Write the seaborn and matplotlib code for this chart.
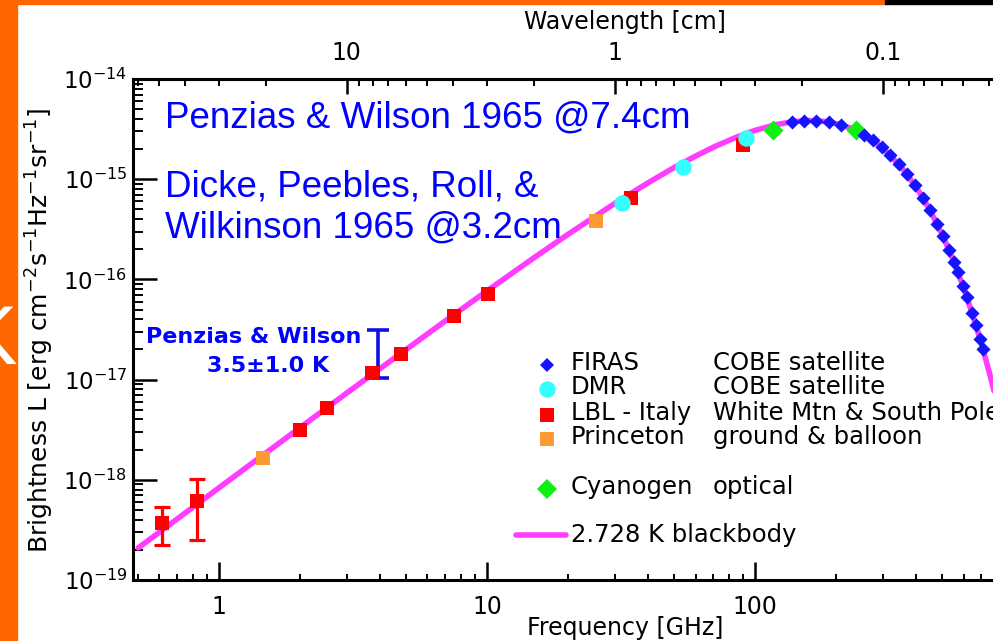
import numpy as np
import matplotlib
matplotlib.use("Agg")
import matplotlib.pyplot as plt
import seaborn as sns
from matplotlib.ticker import LogLocator, FuncFormatter, NullFormatter
from matplotlib.lines import Line2D
from matplotlib.patches import Rectangle

# ---------------- data ----------------
# 2.728 K blackbody curve: frequency [GHz], brightness [erg cm^-2 s^-1 Hz^-1 sr^-1]
bb_freq = [0.5, 0.7, 1, 1.5, 2, 3, 5, 7, 10, 15, 20, 30, 40, 50, 60, 70, 85, 100,
           120, 140, 160, 180, 200, 225, 250, 275, 300, 350, 400, 450, 500, 550,
           600, 650, 700, 750, 800, 850, 900, 950, 1000]
bb_L = [2.09e-19, 4.08e-19, 8.31e-19, 1.86e-18, 3.29e-18, 7.35e-18, 2.00e-17,
        3.86e-17, 7.67e-17, 1.65e-16, 2.80e-16, 5.73e-16, 9.24e-16, 1.31e-15,
        1.70e-15, 2.09e-15, 2.62e-15, 3.07e-15, 3.51e-15, 3.77e-15, 3.85e-15,
        3.78e-15, 3.60e-15, 3.27e-15, 2.87e-15, 2.45e-15, 2.04e-15, 1.34e-15,
        8.31e-16, 4.90e-16, 2.79e-16, 1.54e-16, 8.30e-17, 4.37e-17, 2.27e-17,
        1.16e-17, 5.84e-18, 2.90e-18, 1.43e-18, 6.98e-19, 3.38e-19]

# FIRAS (COBE satellite)
firas_freq = [137.4, 152.3, 168.9, 188.9, 209.4, 255.0, 275.6, 297.8, 319.0, 344.5,
              369.1, 395.4, 423.6, 449.8, 477.7, 502.9, 529.6, 552.8, 572.1, 597.2,
              618.1, 645.2, 667.7, 691.2, 709.2]
firas_L = [3.74e-15, 3.83e-15, 3.83e-15, 3.71e-15, 3.49e-15, 2.79e-15, 2.44e-15,
           2.08e-15, 1.76e-15, 1.41e-15, 1.12e-15, 8.69e-16, 6.51e-16, 4.91e-16,
           3.60e-16, 2.70e-16, 1.97e-16, 1.49e-16, 1.18e-16, 8.59e-17, 6.60e-17,
           4.66e-17, 3.47e-17, 2.55e-17, 2.01e-17]

# DMR (COBE satellite)
dmr_freq = [31.9, 53.9, 92.5]
dmr_L = [5.78e-16, 1.32e-15, 2.57e-15]

# LBL - Italy (White Mtn & South Pole)
lbl_freq = [0.613, 0.828, 2.0, 2.53, 3.72, 4.78, 7.53, 10.1, 34.5, 90.2]
lbl_L = [3.7e-19, 6.16e-19, 3.14e-18, 5.2e-18, 1.16e-17, 1.8e-17, 4.3e-17,
         7.1e-17, 6.49e-16, 2.19e-15]
lbl_err_freq = [0.613, 0.828]
lbl_err_L = [3.7e-19, 6.16e-19]
lbl_err_lo = [2.23e-19, 2.51e-19]
lbl_err_hi = [5.36e-19, 1.02e-18]

# Princeton (ground & balloon)
prin_freq = [1.46, 25.5]
prin_L = [1.65e-18, 3.83e-16]

# Cyanogen (optical)
cn_freq = [116.7, 238.0]
cn_L = [3.10e-15, 3.10e-15]

# Penzias & Wilson 3.5 +/- 1.0 K range
pw_freq = [3.92]
pw_lo = [1.04e-17]
pw_hi = [3.13e-17]

legend_names = ["FIRAS", "DMR", "LBL - Italy", "Princeton", "Cyanogen"]
legend_where = ["COBE satellite", "COBE satellite", "White Mtn & South Pole",
                "ground & balloon", "optical"]
bb_label = "2.728 K blackbody"

# ---------------- style ----------------
sns.set_theme(style="ticks")
plt.rcParams["font.family"] = ["DejaVu Sans"]
plt.rcParams["mathtext.default"] = "regular"
for k in ["text.color", "axes.labelcolor", "xtick.color", "ytick.color",
          "axes.edgecolor"]:
    plt.rcParams[k] = "black"

MAG = "#ff3cff"
BLUE_F = "#1414ff"
CYAN = "#33ffff"
RED = "#ff0000"
ORANGE = "#ff9933"
GREEN = "#11ee11"
TXTBLUE = "#0000ff"

W, H = 993, 641
fig = plt.figure(figsize=(W / 100, H / 100), dpi=100)
fig.patch.set_facecolor("white")


def fx(px):
    return px / W


def fy(py):
    return 1 - py / H


# axes: left spine x=133, bottom y=580, top y=79, right spine beyond image (x~1023)
ax = fig.add_axes([fx(133), fy(580), (1023 - 133) / W, (580 - 79) / H])
ax.set_xscale("log")
ax.set_yscale("log")
ax.set_xlim(0.478, 1000)
ax.set_ylim(1e-19, 1e-14)
ax.set_facecolor("white")

# curve
sns.lineplot(x=bb_freq, y=bb_L, color=MAG, lw=4, ax=ax, sort=False,
             estimator=None, zorder=2, legend=False)

# error bars
ax.errorbar(lbl_err_freq, lbl_err_L,
            yerr=[np.array(lbl_err_L) - np.array(lbl_err_lo),
                  np.array(lbl_err_hi) - np.array(lbl_err_L)],
            fmt="none", ecolor=RED, elinewidth=2.3, capsize=5.8, capthick=2.3,
            zorder=3)
pw_mid = [np.sqrt(pw_lo[0] * pw_hi[0])]
ax.errorbar(pw_freq, pw_mid,
            yerr=[[pw_mid[0] - pw_lo[0]], [pw_hi[0] - pw_mid[0]]],
            fmt="none", ecolor="#1010e0", elinewidth=2.6, capsize=8.0,
            capthick=2.6, zorder=3)

# markers
sns.scatterplot(x=lbl_freq, y=lbl_L, marker="s", s=100, color=RED,
                linewidth=0, ax=ax, zorder=4, legend=False)
sns.scatterplot(x=prin_freq, y=prin_L, marker="s", s=110, color=ORANGE,
                linewidth=0, ax=ax, zorder=4, legend=False)
sns.scatterplot(x=dmr_freq, y=dmr_L, marker="o", s=140, color=CYAN,
                linewidth=0, ax=ax, zorder=5, legend=False)
sns.scatterplot(x=cn_freq, y=cn_L, marker="D", s=105, color=GREEN,
                linewidth=0, ax=ax, zorder=5, legend=False)
sns.scatterplot(x=firas_freq, y=firas_L, marker="D", s=52, color=BLUE_F,
                linewidth=0, ax=ax, zorder=5, legend=False)

# spines and ticks
for sp in ax.spines.values():
    sp.set_linewidth(2.2)
    sp.set_color("black")
ax.xaxis.set_major_locator(LogLocator(base=10, numticks=20))
ax.xaxis.set_minor_locator(LogLocator(base=10, subs=np.arange(2, 10), numticks=20))
ax.xaxis.set_major_formatter(FuncFormatter(lambda v, p: f"{v:g}"))
ax.xaxis.set_minor_formatter(NullFormatter())
ax.yaxis.set_major_locator(LogLocator(base=10, numticks=20))
ax.yaxis.set_minor_locator(LogLocator(base=10, subs=np.arange(2, 10), numticks=20))
ax.yaxis.set_minor_formatter(NullFormatter())

ax.tick_params(axis="x", which="major", direction="in", length=13, width=1.8,
               pad=11, labelsize=17, top=False, bottom=True, colors="black")
ax.tick_params(axis="x", which="minor", direction="in", length=4, width=1.4,
               top=False, bottom=True, colors="black")
ax.tick_params(axis="y", which="major", direction="in", length=17, width=1.8,
               pad=4, labelsize=16.5, left=True, right=True, colors="black")
ax.tick_params(axis="y", which="minor", direction="in", length=7, width=1.4,
               left=True, right=True, colors="black")


def f2l(x):
    x = np.asarray(x, dtype=float)
    with np.errstate(divide="ignore", invalid="ignore"):
        return 29.98 / x


secax = ax.secondary_xaxis("top", functions=(f2l, f2l))
secax.xaxis.set_major_locator(LogLocator(base=10, numticks=20))
secax.xaxis.set_minor_locator(LogLocator(base=10, subs=np.arange(2, 10), numticks=20))
secax.xaxis.set_major_formatter(FuncFormatter(lambda v, p: f"{v:g}"))
secax.xaxis.set_minor_formatter(NullFormatter())
secax.tick_params(which="major", direction="in", length=11, width=1.8, pad=10,
                  labelsize=17, colors="black")
secax.tick_params(which="minor", direction="in", length=5, width=1.4,
                  colors="black")
secax.spines["top"].set_linewidth(2.2)
secax.spines["top"].set_color("black")

# axis titles
fig.text(fx(625), fy(628), "Frequency [GHz]", ha="center", va="center",
         fontsize=17, color="black")
fig.text(fx(625), fy(22), "Wavelength [cm]", ha="center", va="center",
         fontsize=17, color="black")
fig.text(fx(40), fy(330),
         r"Brightness L [erg cm$^{-2}$s$^{-1}$Hz$^{-1}$sr$^{-1}$]",
         rotation=90, ha="center", va="center", fontsize=18, color="black")

# annotations
ann = dict(color=TXTBLUE, fontsize=26.5, family=["Liberation Sans", "DejaVu Sans"],
           ha="left", va="center")
fig.text(fx(165), fy(118), "Penzias & Wilson 1965 @7.4cm", **ann)
fig.text(fx(165), fy(187), "Dicke, Peebles, Roll, &", **ann)
fig.text(fx(165), fy(228), "Wilkinson 1965 @3.2cm", **ann)
fig.text(fx(254), fy(337), "Penzias & Wilson", color=TXTBLUE, fontsize=16,
         fontweight="bold", ha="center", va="center")
fig.text(fx(268), fy(366), "3.5\u00b11.0 K", color=TXTBLUE, fontsize=16,
         fontweight="bold", ha="center", va="center")

# legend (manual, two text columns)
leg_y = [363, 387, 413, 437, 487]
leg_sym = [("D", BLUE_F, 7.2), ("o", CYAN, 11.8), ("s", RED, 10),
           ("s", ORANGE, 10), ("D", GREEN, 10)]
for (mk, col, ms), yy, nm, wh in zip(leg_sym, leg_y, legend_names, legend_where):
    fig.add_artist(Line2D([fx(547)], [fy(yy + 2)], marker=mk, color=col,
                          markersize=ms, markeredgewidth=0, linestyle="none",
                          transform=fig.transFigure))
    fig.text(fx(571), fy(yy), nm, fontsize=17.5, ha="left", va="center",
             color="black")
    fig.text(fx(713), fy(yy), wh, fontsize=17.5, ha="left", va="center",
             color="black")
fig.add_artist(Line2D([fx(516), fx(566)], [fy(535), fy(535)], color=MAG, lw=4,
                      transform=fig.transFigure))
fig.text(fx(571), fy(535), bb_label, fontsize=17.5, ha="left", va="center",
         color="black")

# slide frame fragments
fig.add_artist(Rectangle((0, 0), fx(17), 1, transform=fig.transFigure,
                         color="#ff6600", zorder=10))
fig.add_artist(Rectangle((0, fy(4)), fx(885), 4 / H, transform=fig.transFigure,
                         color="#ff6600", zorder=10))
fig.add_artist(Rectangle((fx(885), fy(4)), 1 - fx(885), 4 / H,
                         transform=fig.transFigure, color="black", zorder=10))
fig.text(fx(17), fy(342), "K", color="white", fontsize=60, ha="right",
         va="center", family=["Liberation Sans", "DejaVu Sans"], zorder=11)

fig.savefig("out.png", dpi=100)
